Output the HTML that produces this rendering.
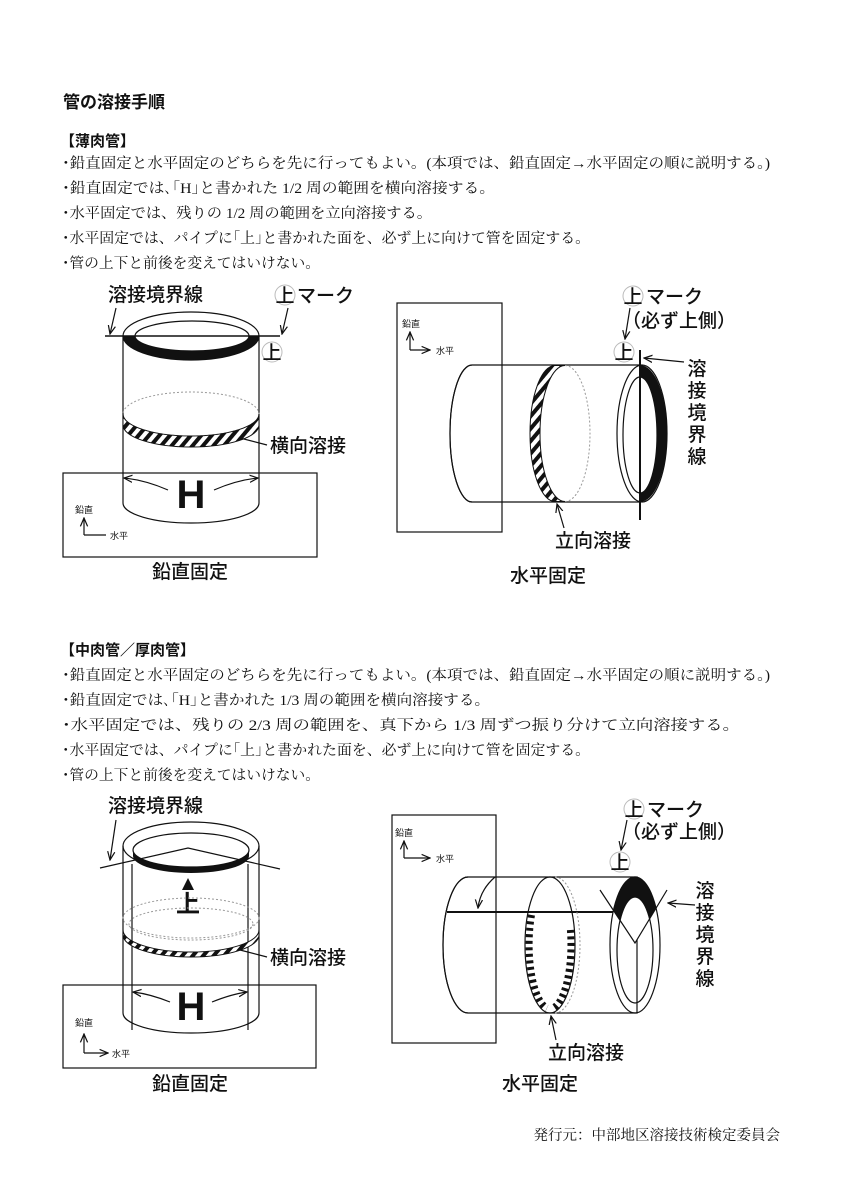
<!DOCTYPE html>
<html><head><meta charset="utf-8"><style>
html,body{margin:0;padding:0;background:#fff}
svg{display:block}
.b{font-family:"Liberation Serif","Noto Serif CJK SC",serif;font-size:14.5px;fill:#111}
.h{font-family:"Liberation Sans","Noto Sans CJK JP",sans-serif;font-weight:bold;fill:#111}
.l{font-family:"Liberation Sans","Noto Sans CJK JP",sans-serif;font-size:19px;font-weight:500;fill:#111}
.s{font-family:"Liberation Sans","Noto Sans CJK JP",sans-serif;font-size:9px;fill:#111}
.ln{fill:none;stroke:#111;stroke-width:1.2}
</style></head><body>
<svg width="849" height="1200" viewBox="0 0 849 1200" xmlns="http://www.w3.org/2000/svg">
<defs>
<pattern id="hat" patternUnits="userSpaceOnUse" width="8" height="8" patternTransform="rotate(40)">
<rect width="8" height="8" fill="#fff"/><rect width="4" height="8" fill="#111"/></pattern>
<marker id="ar" markerWidth="8" markerHeight="8" refX="7" refY="4" orient="auto"><path d="M0,1 L7,4 L0,7" fill="none" stroke="#111" stroke-width="1"/></marker>
<clipPath id="vcap"><polygon points="560,860 700,860 667,890 635,943 600,890"/></clipPath>
</defs>

<text class="h" x="63" y="108" font-size="17">管の溶接手順</text>
<text class="h" x="60" y="146" font-size="15">【薄肉管】</text>
<text class="b" x="62" y="168" textLength="708" lengthAdjust="spacingAndGlyphs">･鉛直固定と水平固定のどちらを先に行ってもよい。(本項では、鉛直固定→水平固定の順に説明する。)</text>
<text class="b" x="62" y="193" textLength="433" lengthAdjust="spacingAndGlyphs">･鉛直固定では､｢H｣と書かれた 1/2 周の範囲を横向溶接する。</text>
<text class="b" x="62" y="218" textLength="370" lengthAdjust="spacingAndGlyphs">･水平固定では、残りの 1/2 周の範囲を立向溶接する。</text>
<text class="b" x="62" y="243" textLength="528" lengthAdjust="spacingAndGlyphs">･水平固定では、パイプに｢上｣と書かれた面を、必ず上に向けて管を固定する。</text>
<text class="b" x="62" y="268" textLength="258" lengthAdjust="spacingAndGlyphs">･管の上下と前後を変えてはいけない。</text>

<text class="h" x="60" y="655" font-size="15">【中肉管／厚肉管】</text>
<text class="b" x="62" y="680" textLength="708" lengthAdjust="spacingAndGlyphs">･鉛直固定と水平固定のどちらを先に行ってもよい。(本項では、鉛直固定→水平固定の順に説明する。)</text>
<text class="b" x="62" y="705" textLength="428" lengthAdjust="spacingAndGlyphs">･鉛直固定では､｢H｣と書かれた 1/3 周の範囲を横向溶接する。</text>
<text class="b" x="62" y="730" textLength="678" lengthAdjust="spacingAndGlyphs">･水平固定では、残りの 2/3 周の範囲を、真下から 1/3 周ずつ振り分けて立向溶接する。</text>
<text class="b" x="62" y="755" textLength="528" lengthAdjust="spacingAndGlyphs">･水平固定では、パイプに｢上｣と書かれた面を、必ず上に向けて管を固定する。</text>
<text class="b" x="62" y="780" textLength="258" lengthAdjust="spacingAndGlyphs">･管の上下と前後を変えてはいけない。</text>

<text class="b" x="780" y="1140" text-anchor="end" font-size="13">発行元：中部地区溶接技術検定委員会</text>

<!-- ===== Top-left ===== -->
<rect x="63" y="473" width="254" height="84" class="ln" fill="#fff"/>
<path d="M123,336 L123,503 A68,20 0 0 0 259,503 L259,336" class="ln" fill="#fff"/>
<ellipse cx="191" cy="336" rx="68" ry="24" class="ln" fill="#fff"/>
<ellipse cx="192" cy="336" rx="57" ry="15" class="ln"/>
<path d="M123,336 A68,24 0 0 0 259,336 L249,336 A57,15 0 0 1 135,336 Z" fill="#111"/>
<line x1="105" y1="336" x2="280" y2="336" stroke="#111" stroke-width="1.5"/>
<ellipse cx="191" cy="414" rx="68" ry="22" fill="none" stroke="#999" stroke-width="1" stroke-dasharray="2,2"/>
<path d="M123,414 A68,22 0 0 0 259,414 L259,425 A68,22 0 0 1 123,425 Z" fill="url(#hat)" stroke="#111" stroke-width="1"/>
<text class="l" x="108" y="301">溶接境界線</text>
<line x1="116" y1="308" x2="110" y2="334" class="ln" marker-end="url(#ar)"/>
<circle cx="285" cy="295" r="10" fill="#fff" stroke="#bbb"/><text class="l" x="285" y="302" text-anchor="middle" font-size="17">上</text>
<text class="l" x="297" y="302">マーク</text>
<line x1="288" y1="308" x2="282" y2="334" class="ln" marker-end="url(#ar)"/>
<circle cx="272" cy="352" r="10" fill="#fff" stroke="#bbb"/><text class="l" x="272" y="359" text-anchor="middle" font-size="17">上</text>
<text class="l" x="270" y="452">横向溶接</text>
<line x1="240" y1="438" x2="267" y2="445" class="ln"/>
<text class="h" x="191" y="508" font-size="40" text-anchor="middle">H</text>
<path d="M168,490 Q145,480 124,478" class="ln" stroke-width="1.8" marker-end="url(#ar)"/>
<path d="M214,490 Q237,480 258,478" class="ln" stroke-width="1.8" marker-end="url(#ar)"/>
<text class="s" x="75" y="513">鉛直</text>
<path d="M84,535 L84,518" class="ln" stroke-width="0.8" marker-end="url(#ar)"/>
<line x1="84" y1="535" x2="106" y2="535" class="ln" stroke-width="0.8"/>
<text class="s" x="110" y="539">水平</text>
<text class="l" x="190" y="578" text-anchor="middle">鉛直固定</text>

<!-- ===== Top-right ===== -->
<rect x="397" y="303" width="105" height="229" class="ln" fill="#fff"/>
<path d="M472,365 L640,365 L640,502 L472,502 A22,68.5 0 0 1 472,365 Z" class="ln" fill="#fff"/>
<path d="M472,365 A22,68.5 0 0 0 472,502" class="ln"/>
<ellipse cx="642" cy="433.5" rx="25" ry="68.5" class="ln" fill="#fff"/>
<ellipse cx="640" cy="435" rx="17" ry="58" class="ln"/>
<path d="M640,365 A27,68.5 0 0 1 640,502 L640,493 A17,58 0 0 0 640,377 Z" fill="#111"/>
<line x1="640" y1="350" x2="640" y2="520" stroke="#111" stroke-width="2"/>
<path d="M555,365.5 A25,68 0 0 0 555,501.5 L565,501.5 A25,68 0 0 1 565,365.5 Z" fill="url(#hat)" stroke="#111"/>
<path d="M565,365.5 A25,68 0 0 1 565,501.5" fill="none" stroke="#999" stroke-dasharray="2,2"/>
<circle cx="633" cy="296" r="10" fill="#fff" stroke="#bbb"/><text class="l" x="633" y="303" text-anchor="middle" font-size="17">上</text>
<text class="l" x="646" y="303">マーク</text>
<text class="l" x="622" y="327">（必ず上側）</text>
<circle cx="624" cy="352" r="10" fill="#fff" stroke="#bbb"/><text class="l" x="624" y="359" text-anchor="middle" font-size="17">上</text>
<line x1="630" y1="308" x2="625" y2="339" class="ln" marker-end="url(#ar)"/>
<line x1="684" y1="362" x2="644" y2="358" class="ln" marker-end="url(#ar)"/>
<g class="l"><text x="697" y="375" text-anchor="middle">溶</text><text x="697" y="397" text-anchor="middle">接</text><text x="697" y="419" text-anchor="middle">境</text><text x="697" y="441" text-anchor="middle">界</text><text x="697" y="463" text-anchor="middle">線</text></g>
<text class="l" x="555" y="547">立向溶接</text>
<line x1="564" y1="528" x2="557" y2="504" class="ln" marker-end="url(#ar)"/>
<text class="l" x="548" y="582" text-anchor="middle">水平固定</text>
<text class="s" x="402" y="327">鉛直</text>
<path d="M410,350 L410,332" class="ln" stroke-width="0.8" marker-end="url(#ar)"/>
<line x1="410" y1="350" x2="430" y2="350" class="ln" stroke-width="0.8" marker-end="url(#ar)"/>
<text class="s" x="436" y="354">水平</text>

<!-- ===== Bottom-left ===== -->
<rect x="63" y="985" width="253" height="83" class="ln" fill="#fff"/>
<path d="M123,846 L123,1013 A68,20 0 0 0 259,1013 L259,846" class="ln" fill="#fff"/>
<line x1="132" y1="864" x2="132" y2="1030" class="ln"/>
<line x1="248" y1="864" x2="248" y2="1030" class="ln"/>
<ellipse cx="191" cy="846" rx="68" ry="24" class="ln" fill="#fff"/>
<ellipse cx="191" cy="850" rx="58" ry="17" class="ln"/>
<path d="M133,850 A58,17 0 0 0 249,850 L249,856 A58,17 0 0 1 133,856 Z" fill="#111"/>
<polyline points="100,868 188,848 280,869" class="ln"/>
<polygon points="188,878 182,890 194,890" fill="#111"/>
<text class="h" x="188" y="912" font-size="24" text-anchor="middle" font-weight="normal">上</text>
<ellipse cx="191" cy="918" rx="68" ry="20" fill="none" stroke="#999" stroke-dasharray="2,2"/>
<ellipse cx="191" cy="924" rx="62" ry="16" fill="none" stroke="#999" stroke-dasharray="2,2"/>
<path d="M123,930 A68,22 0 0 0 259,930 L259,935 A68,22 0 0 1 123,935 Z" fill="url(#hat)" stroke="#111"/>
<text class="l" x="270" y="964">横向溶接</text>
<line x1="240" y1="950" x2="267" y2="957" class="ln"/>
<text class="h" x="191" y="1020" font-size="40" text-anchor="middle">H</text>
<path d="M170,1002 Q150,994 133,992" class="ln" stroke-width="1.8" marker-end="url(#ar)"/>
<path d="M212,1002 Q232,994 247,992" class="ln" stroke-width="1.8" marker-end="url(#ar)"/>
<text class="l" x="108" y="812">溶接境界線</text>
<line x1="116" y1="820" x2="110" y2="860" class="ln" marker-end="url(#ar)"/>
<text class="s" x="75" y="1026">鉛直</text>
<path d="M84,1053 L84,1034" class="ln" stroke-width="0.8" marker-end="url(#ar)"/>
<line x1="84" y1="1053" x2="108" y2="1053" class="ln" stroke-width="0.8" marker-end="url(#ar)"/>
<text class="s" x="112" y="1057">水平</text>
<text class="l" x="190" y="1090" text-anchor="middle">鉛直固定</text>

<!-- ===== Bottom-right ===== -->
<rect x="392" y="815" width="104" height="228" class="ln" fill="#fff"/>
<path d="M468,877 L637,877 L637,1013 L468,1013 A25,68 0 0 1 468,877 Z" class="ln" fill="#fff"/>
<path d="M468,877 A25,68 0 0 0 468,1013" class="ln"/>
<ellipse cx="635" cy="945" rx="25" ry="68" class="ln" fill="#fff"/>
<g clip-path="url(#vcap)">
<ellipse cx="635" cy="945" rx="25" ry="68" fill="#111"/>
<ellipse cx="635" cy="950" rx="18" ry="53" fill="#fff"/>
</g>
<ellipse cx="635" cy="950" rx="18" ry="53" class="ln"/>
<polyline points="600,890 635,943 667,890" class="ln"/>
<line x1="447" y1="912" x2="613" y2="912" stroke="#111" stroke-width="2"/>
<path d="M495,877 Q480,890 478,908" class="ln" stroke-width="1.5" marker-end="url(#ar)"/>
<ellipse cx="550" cy="945" rx="25" ry="68" class="ln" fill="none"/>
<path d="M555,877 A25,68 0 0 1 555,1013" fill="none" stroke="#999" stroke-dasharray="2,2"/>
<path d="M531.5,915 A21,64 0 0 0 547,1008" fill="none" stroke="#111" stroke-width="7" stroke-dasharray="3,3.5"/>
<path d="M570.4,930 A21,64 0 0 1 553,1008" fill="none" stroke="#111" stroke-width="7" stroke-dasharray="3,3.5"/>
<circle cx="634" cy="809" r="10" fill="#fff" stroke="#bbb"/><text class="l" x="634" y="816" text-anchor="middle" font-size="17">上</text>
<text class="l" x="647" y="816">マーク</text>
<text class="l" x="622" y="838">（必ず上側）</text>
<circle cx="620" cy="862" r="10" fill="#fff" stroke="#bbb"/><text class="l" x="620" y="869" text-anchor="middle" font-size="17">上</text>
<line x1="627" y1="820" x2="621" y2="850" class="ln" marker-end="url(#ar)"/>
<line x1="695" y1="905" x2="668" y2="903" class="ln" marker-end="url(#ar)"/>
<g class="l"><text x="705" y="897" text-anchor="middle">溶</text><text x="705" y="919" text-anchor="middle">接</text><text x="705" y="941" text-anchor="middle">境</text><text x="705" y="963" text-anchor="middle">界</text><text x="705" y="985" text-anchor="middle">線</text></g>
<text class="l" x="548" y="1059">立向溶接</text>
<line x1="556" y1="1040" x2="551" y2="1016" class="ln" marker-end="url(#ar)"/>
<text class="l" x="540" y="1090" text-anchor="middle">水平固定</text>
<text class="s" x="395" y="836">鉛直</text>
<path d="M404,858 L404,841" class="ln" stroke-width="0.8" marker-end="url(#ar)"/>
<line x1="404" y1="858" x2="430" y2="858" class="ln" stroke-width="0.8" marker-end="url(#ar)"/>
<text class="s" x="436" y="862">水平</text>
</svg>
</body></html>
